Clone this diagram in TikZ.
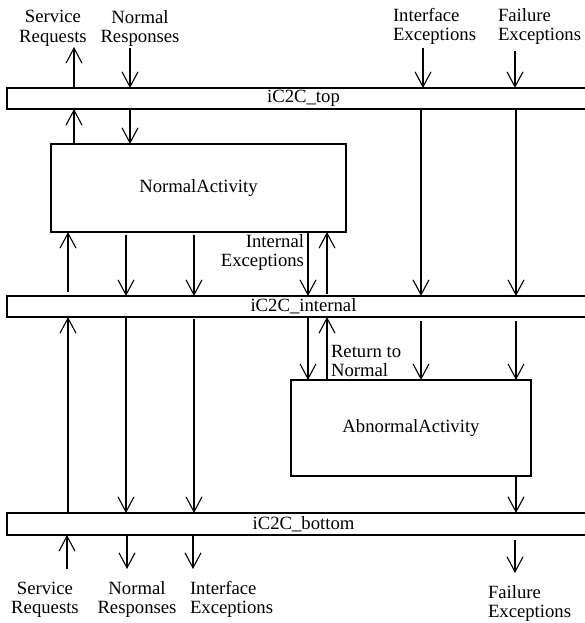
\documentclass[tikz,border=0pt]{standalone}
\usepackage{fontspec}
\setmainfont{Liberation Serif}
\usetikzlibrary{arrows.meta}
\begin{document}
\begin{tikzpicture}[x=1pt,y=-1pt,
  every node/.style={font=\fontsize{18.7}{19}\selectfont, inner sep=0pt, outer sep=0pt},
  bar/.style={draw, line width=1.1pt, minimum width=593pt, minimum height=21pt},
  box/.style={draw, line width=1.1pt},
  arr/.style={line width=1.1pt, -{Straight Barb[length=15pt,width=16pt,line width=1.1pt]}},
  lead/.style={font=\fontsize{18.7}{#1}\selectfont},
]
\useasboundingbox (0,0) rectangle (584,623);

% bars
\node[bar] (top) at (303.5,98.5) {iC2C\_top};
\node[bar] (int) at (303.5,306.5) {iC2C\_internal};
\node[bar, minimum height=22pt] (bot) at (303.5,524) {iC2C\_bottom};

% activity boxes
\node[box, minimum width=295pt, minimum height=88pt] (na) at (198.5,188) {NormalActivity};
\node[box, minimum width=240pt, minimum height=96pt] (aa) at (411,428) {AbnormalActivity};

% column coordinates
\coordinate (c74) at (74,0);
\coordinate (c130) at (130,0);
\coordinate (c68) at (68,0);
\coordinate (c126) at (126,0);
\coordinate (c194) at (194,0);
\coordinate (c308) at (308,0);
\coordinate (c327) at (327,0);
\coordinate (c421) at (421,0);
\coordinate (c516) at (516,0);

% free ends
\coordinate (srT) at (74,47);
\coordinate (nrT) at (130,48);
\coordinate (ieT) at (423,48);
\coordinate (feT) at (515,51);
\coordinate (srB) at (67,569);
\coordinate (nrB) at (127,569);
\coordinate (ieB) at (193,569);
\coordinate (feB) at (515,573);

% top external
\draw[arr] (top.north -| srT) -- (srT);
\draw[arr] (nrT) -- (top.north -| nrT);
\draw[arr] (ieT) -- (top.north -| ieT);
\draw[arr] (feT) -- (top.north -| feT);

% top <-> NormalActivity
\draw[arr] (na.north -| c74) -- (top.south -| c74);
\draw[arr] (top.south -| c130) -- (na.north -| c130);

% top -> internal
\draw[arr] (top.south -| c421) -- (int.north -| c421);
\draw[arr] (top.south -| c516) -- (int.north -| c516);

% NormalActivity <-> internal
\draw[arr, shorten <=4pt] (int.north -| c68) -- (na.south -| c68);
\draw[arr, shorten <=3pt] (na.south -| c126) -- (int.north -| c126);
\draw[arr, shorten <=3pt] (na.south -| c194) -- (int.north -| c194);
\draw[arr] (na.south -| c308) -- (int.north -| c308);
\draw[arr, shorten <=2pt] (int.north -| c327) -- (na.south -| c327);

% internal <-> bottom / Abnormal
\draw[arr] (bot.north -| c68) -- (int.south -| c68);
\draw[arr] (int.south -| c126) -- (bot.north -| c126);
\draw[arr, shorten <=2pt] (int.south -| c194) -- (bot.north -| c194);
\draw[arr] (int.south -| c308) -- (aa.north -| c308);
\draw[arr] (aa.north -| c327) -- (int.south -| c327);
\draw[arr, shorten <=4pt] (int.south -| c421) -- (aa.north -| c421);
\draw[arr, shorten <=4pt] (int.south -| c516) -- (aa.north -| c516);

% Abnormal -> bottom
\draw[arr] (aa.south -| c516) -- (bot.north -| c516);

% bottom external
\draw[arr] (srB) -- (bot.south -| srB);
\draw[arr] (bot.south -| nrB) -- (nrB);
\draw[arr] (bot.south -| ieB) -- (ieB);
\draw[arr, shorten <=5pt] (bot.south -| feB) -- (feB);

% top labels
\node[lead=19.5, align=center, anchor=north] (t1) at (53,10.2) {Service\\Requests};
\node[lead=19.5, align=center, anchor=north] (t2) at (140,10.2) {Normal\\Responses};
\node[lead=19.5, align=left, anchor=north west] (t3) at (393,8.2) {Interface\\Exceptions};
\node[lead=19.5, align=left, anchor=north west] (t4) at (498,8.2) {Failure\\Exceptions};

% inner labels
\node[lead=19, align=right, anchor=north east] (ie) at (304,234.2) {Internal\\Exceptions};
\node[lead=19, align=left, anchor=north west] (rn) at (331,345.7) {Return to\\Normal};

% bottom labels
\node[lead=19, align=center, anchor=north] (b1) at (45,581.7) {Service\\Requests};
\node[lead=19, align=center, anchor=north] (b2) at (137,581.7) {Normal\\Responses};
\node[lead=19, align=left, anchor=north west] (b3) at (190,581.7) {Interface\\Exceptions};
\node[lead=19, align=left, anchor=north west] (b4) at (488,585.2) {Failure\\Exceptions};
\end{tikzpicture}
\end{document}
